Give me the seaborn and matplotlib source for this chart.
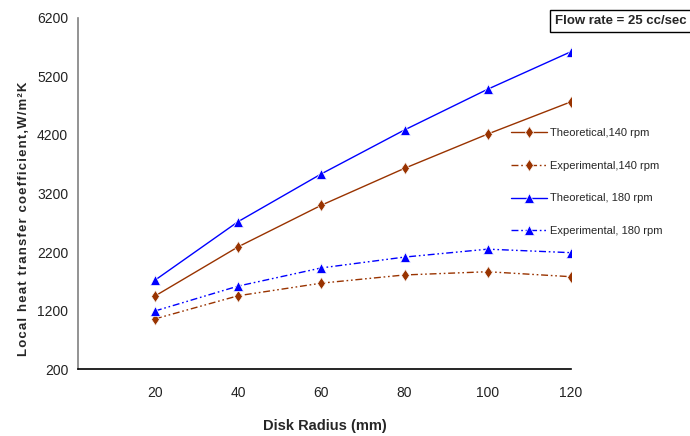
import matplotlib

matplotlib.use("Agg")
import matplotlib.pyplot as plt
import numpy as np
import pandas as pd
import seaborn as sns


disk_radius = [20, 40, 60, 80, 100, 120]
theoretical_140 = [1450, 2290, 3000, 3630, 4215, 4765]
experimental_140 = [1060, 1455, 1670, 1810, 1865, 1780]
theoretical_180 = [1720, 2720, 3535, 4285, 4980, 5620]
experimental_180 = [1195, 1620, 1930, 2115, 2250, 2190]

series_names = [
	"Theoretical,140 rpm",
	"Experimental,140 rpm",
	"Theoretical, 180 rpm",
	"Experimental, 180 rpm",
]
y_ticks = [200, 1200, 2200, 3200, 4200, 5200, 6200]

BROWN = "#993300"
BLUE = "#0000ff"


def build_frame() -> pd.DataFrame:
	rows = []
	for name, values in zip(series_names, [theoretical_140, experimental_140, theoretical_180, experimental_180]):
		for r, v in zip(disk_radius, values):
			rows.append({"radius": r, "h": v, "series": name})
	return pd.DataFrame(rows)


def main() -> None:
	sns.set_style("white")
	plt.rcParams["font.family"] = ["Liberation Sans", "DejaVu Sans"]

	df = build_frame()

	fig = plt.figure(figsize=(6.9, 4.36), dpi=100)
	ax = fig.add_axes([0.113, 0.153, 0.7145, 0.8064])

	palette = {series_names[0]: BROWN, series_names[1]: BROWN, series_names[2]: BLUE, series_names[3]: BLUE}
	markers = {series_names[0]: "d", series_names[1]: "d", series_names[2]: "^", series_names[3]: "^"}
	dash_dot_dot = (5, 2, 1.2, 2, 1.2, 2)
	dashes = {series_names[0]: "", series_names[1]: dash_dot_dot, series_names[2]: "", series_names[3]: dash_dot_dot}

	sns.lineplot(
		data=df,
		x="radius",
		y="h",
		hue="series",
		style="series",
		hue_order=series_names,
		style_order=series_names,
		palette=palette,
		markers=markers,
		dashes=dashes,
		markersize=6.5,
		markeredgewidth=0.5,
		linewidth=1.0,
		ax=ax,
	)

	ax.set_xlim(1.5, 120)
	ax.set_ylim(200, 6200)
	ax.set_xticks(disk_radius)
	ax.set_yticks(y_ticks)
	ax.tick_params(axis="both", labelsize=10, colors="#808080", length=4, width=1, direction="out", labelcolor="#222222")
	ax.tick_params(axis="x", pad=8)
	ax.tick_params(axis="y", pad=3)

	for side in ("top", "right"):
		ax.spines[side].set_visible(False)
	ax.spines["left"].set_color("#808080")
	ax.spines["left"].set_linewidth(1.2)
	ax.spines["bottom"].set_color("black")
	ax.spines["bottom"].set_linewidth(1.2)

	ax.set_xlabel("Disk Radius (mm)", fontsize=10.5, fontweight="bold", labelpad=14)
	hair = "\u200a"
	ylabel = hair.join("Local heat transfer coefficient,W/m²K")
	ax.set_ylabel(ylabel, fontsize=9.5, fontweight="bold")
	ax.yaxis.set_label_coords(-0.097, 0.427)

	handles, labels = ax.get_legend_handles_labels()
	ax.legend(
		handles,
		labels,
		loc="upper left",
		bbox_to_anchor=(0.87, 0.70),
		frameon=False,
		fontsize=8,
		labelspacing=2.06,
		handlelength=3.25,
		handletextpad=0.2,
		borderaxespad=0,
	)

	fig.text(
		0.805,
		0.952,
		"Flow rate = 25 cc/sec",
		fontsize=9.5,
		fontweight="bold",
		va="center",
		ha="left",
		bbox=dict(boxstyle="square,pad=0.4", facecolor="white", edgecolor="black", linewidth=1),
	)

	fig.savefig("out.png", dpi=100)
	plt.close(fig)


if __name__ == "__main__":
	main()
